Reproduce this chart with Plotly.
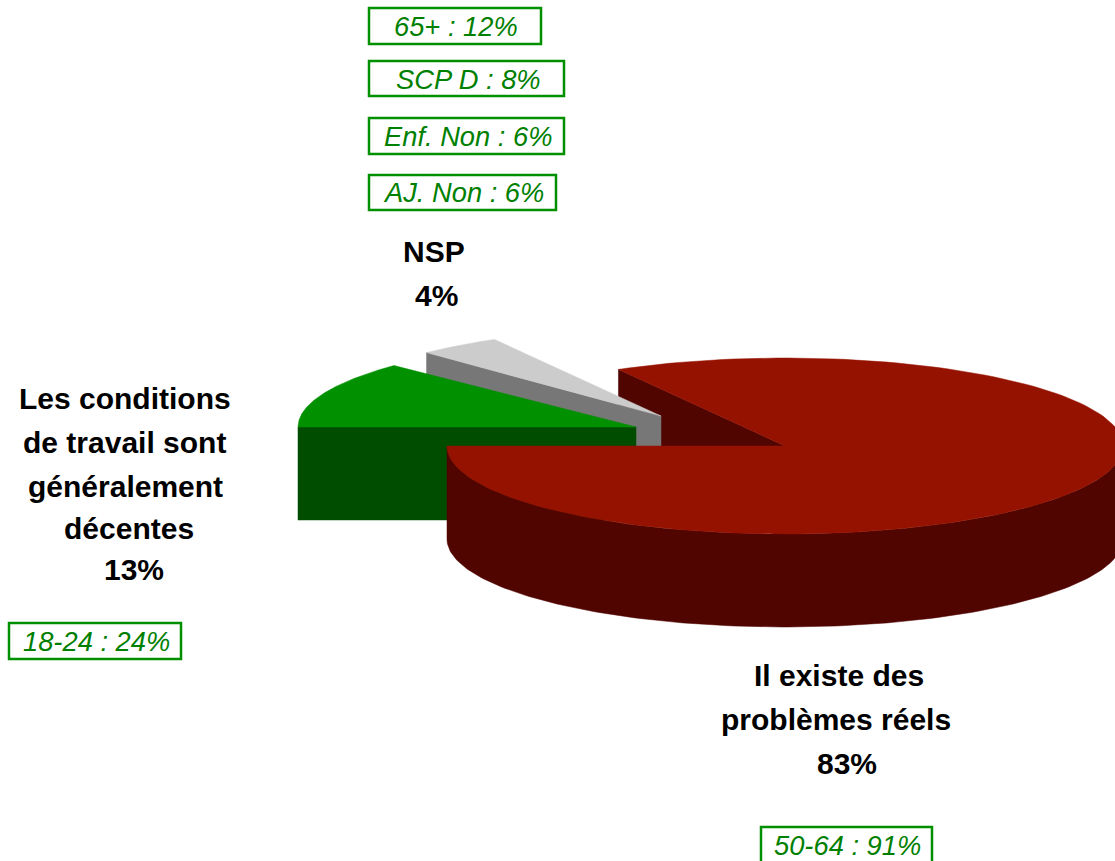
import numpy as np
import plotly.graph_objects as go

# --- Data ---
slice_names = ["Il existe des problèmes réels", "Les conditions de travail sont généralement décentes", "NSP"]
slice_shares = [83.2, 12.3, 4.0]          # slice sweep as drawn (printed labels round these)

label_texts = ["Les conditions", "de travail sont", "généralement", "décentes", "13%",
               "NSP", "4%", "Il existe des", "problèmes réels", "83%"]
box_texts = ["65+ : 12%", "SCP D : 8%", "Enf. Non : 6%", "AJ. Non : 6%", "18-24 : 24%", "50-64 : 91%"]

# --- Layout and style ---
W, H = 1115, 861
RX, RY, DEPTH = 338, 88, 93
CENTERS = [(785, 446), (636, 427), (661, 416)]
TOP = ["#961200", "#009000", "#CCCCCC"]
SIDE = ["#500500", "#004D00", "#777777"]
LEFT = 180.0       # red and green both meet the due-left direction
label_pos = [(124.5, 398), (124, 442), (125.5, 486), (128.5, 528), (134, 569),
             (433.5, 251), (436.5, 295), (838.5, 675), (836, 719), (846.5, 763)]
box_text_pos = [(456, 26.5), (468, 79.5), (467.5, 136.5), (463.5, 192.5), (96.5, 641.5), (847.5, 845)]
box_rect = [(369, 8, 541, 44), (369, 61, 564, 96), (369, 118, 564, 154),
            (369, 175, 556, 210), (9, 623, 181, 659), (761, 827, 932, 867)]

# Sweep angles derived from the shares
sweeps = [s / 100 * 360 for s in slice_shares]
green_a = (LEFT, LEFT - sweeps[1])
red_a = (LEFT - 360 + sweeps[0], LEFT - 360)
gray_a = (red_a[0] + sweeps[2], red_a[0])


def rim(c, a0, a1, dy=0, n=160):
    t = np.radians(np.linspace(a0, a1, n))
    return c[0] + RX * np.cos(t), c[1] - RY * np.sin(t) + dy


def pt(c, a, dy=0):
    t = np.radians(a)
    return c[0] + RX * np.cos(t), c[1] - RY * np.sin(t) + dy


def poly(xs, ys, color, name):
    return go.Scatter(x=list(xs), y=list(ys), mode="lines", fill="toself", fillcolor=color,
                      line=dict(color=color, width=0.5), name=name, hoverinfo="name", showlegend=False)


def radial_wall(c, a, color, name):
    x, y = pt(c, a)
    return poly([x, c[0], c[0], x, x], [y, c[1], c[1] + DEPTH, y + DEPTH, y], color, name)


def top_face(c, a0, a1, color, name):
    x, y = rim(c, a0, a1)
    return poly(np.r_[c[0], x, c[0]], np.r_[c[1], y, c[1]], color, name)


fig = go.Figure()
cr, cg, cy = CENTERS
# painter's order: back to front
fig.add_trace(radial_wall(cr, red_a[0], SIDE[0], slice_names[0]))
fig.add_trace(radial_wall(cy, gray_a[0], SIDE[2], slice_names[2]))
fig.add_trace(top_face(cy, gray_a[0], gray_a[1], TOP[2], slice_names[2]))
fig.add_trace(radial_wall(cg, green_a[0], SIDE[1], slice_names[1]))
fig.add_trace(top_face(cg, green_a[0], green_a[1], TOP[1], slice_names[1]))
# red outer wall
ux, uy = rim(cr, 180, 360)
lx, ly = rim(cr, 360, 180, DEPTH)
fig.add_trace(poly(np.r_[ux, lx, ux[0]], np.r_[uy, ly, uy[0]], SIDE[0], slice_names[0]))
fig.add_trace(top_face(cr, red_a[0], red_a[1], TOP[0], slice_names[0]))

for txt, (x, y) in zip(label_texts, label_pos):
    fig.add_annotation(x=x, y=y, text=f"<b>{txt}</b>", showarrow=False, xanchor="center", yanchor="middle",
                       font=dict(family="Liberation Sans", size=30, color="#000000"))
for txt, (x, y), (x0, y0, x1, y1) in zip(box_texts, box_text_pos, box_rect):
    fig.add_shape(type="rect", x0=x0, y0=y0, x1=x1, y1=y1, line=dict(color="#009000", width=2.5),
                  fillcolor="rgba(0,0,0,0)")
    fig.add_annotation(x=x, y=y, text=f"<i>{txt}</i>", showarrow=False, xanchor="center", yanchor="middle",
                       font=dict(family="Liberation Sans", size=27.3, color="#008000"))

fig.update_xaxes(range=[0, W], visible=False, fixedrange=True)
fig.update_yaxes(range=[H, 0], visible=False, fixedrange=True)
fig.update_layout(width=W, height=H, margin=dict(l=0, r=0, t=0, b=0), autosize=False,
                  paper_bgcolor="white", plot_bgcolor="white", showlegend=False)
fig.write_html("out.html", config={"displayModeBar": False},
               post_script="document.body.style.margin='0';document.body.style.overflow='hidden';")
